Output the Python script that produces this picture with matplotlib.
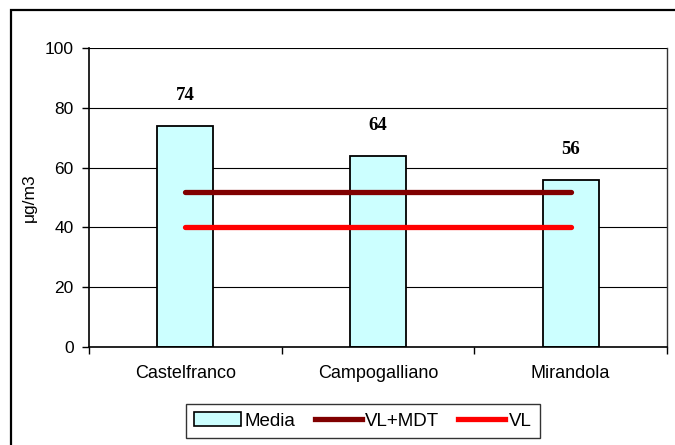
import matplotlib
matplotlib.use("Agg")
import matplotlib.pyplot as plt
from matplotlib.patches import Rectangle, Patch
from matplotlib.lines import Line2D
import numpy as np

categories = ["Castelfranco", "Campogalliano", "Mirandola"]
media = [74, 64, 56]
vl_mdt = [52, 52, 52]
vl = [40, 40, 40]
yticks = [0, 20, 40, 60, 80, 100]

plt.rcParams['font.family'] = ['Liberation Sans', 'DejaVu Sans']

W, H = 675, 445
fig = plt.figure(figsize=(W / 100, H / 100), dpi=100)
ax = fig.add_axes([89 / W, 1 - 347 / H, (667 - 89) / W, (347 - 48) / H])

x = np.arange(len(categories))
bars = ax.bar(x, media, width=0.29, color="#CCFFFF", edgecolor="black",
              linewidth=1.3, zorder=2)
ax.plot(x, vl_mdt, color="#800000", lw=3.8, solid_capstyle="round", zorder=3)
ax.plot(x, vl, color="#FF0000", lw=3.8, solid_capstyle="round", zorder=3)

for xi, v in zip(x, media):
    ax.annotate(f"{v}", (xi, v), xytext=(0, 18.5), textcoords="offset points",
                ha="center", va="baseline", fontsize=13.5, fontweight="bold",
                family="Liberation Serif")

ax.set_xlim(-0.5, len(categories) - 0.5)
ax.set_ylim(0, 100)
ax.set_yticks(yticks)
ax.set_yticklabels([str(t) for t in yticks], fontsize=12.5)
ax.yaxis.grid(True, color="black", lw=0.8, zorder=0)
ax.set_axisbelow(True)

ax.set_xticks(x)
ax.set_xticklabels(categories, fontsize=13)
ax.tick_params(axis="x", which="major", length=0, pad=13)
ax.set_xticks(np.arange(len(categories) + 1) - 0.5, minor=True)
ax.tick_params(axis="x", which="minor", length=5, width=1, direction="out")
ax.tick_params(axis="y", length=5, width=1, direction="out", pad=6)

ax.set_ylabel("μg/m3", fontsize=12.5, labelpad=6)

for s in ["left", "bottom"]:
    ax.spines[s].set_color("black")
    ax.spines[s].set_linewidth(1.2)
ax.spines["right"].set_color("#333333")
ax.spines["right"].set_linewidth(1.0)
ax.spines["top"].set_visible(False)

# outer chart border
fig.add_artist(Rectangle((11 / W, -0.1), 1.2, 1 - 10 / H + 0.1,
                         transform=fig.transFigure, fill=False,
                         edgecolor="black", lw=1.6))

handles = [Patch(facecolor="#CCFFFF", edgecolor="black", linewidth=1.2),
           Line2D([0], [0], color="#800000", lw=3.8),
           Line2D([0], [0], color="#FF0000", lw=3.8)]
leg = fig.legend(handles, ["Media", "VL+MDT", "VL"], loc="center",
                 bbox_to_anchor=(363 / W, 1 - 421 / H), ncol=3, fontsize=13.5,
                 frameon=True, fancybox=False, edgecolor="black",
                 handlelength=2.5, handletextpad=0.2, columnspacing=1.0,
                 borderpad=0.45, borderaxespad=0)
leg.get_frame().set_linewidth(1.0)

fig.savefig("out.png", dpi=100)
